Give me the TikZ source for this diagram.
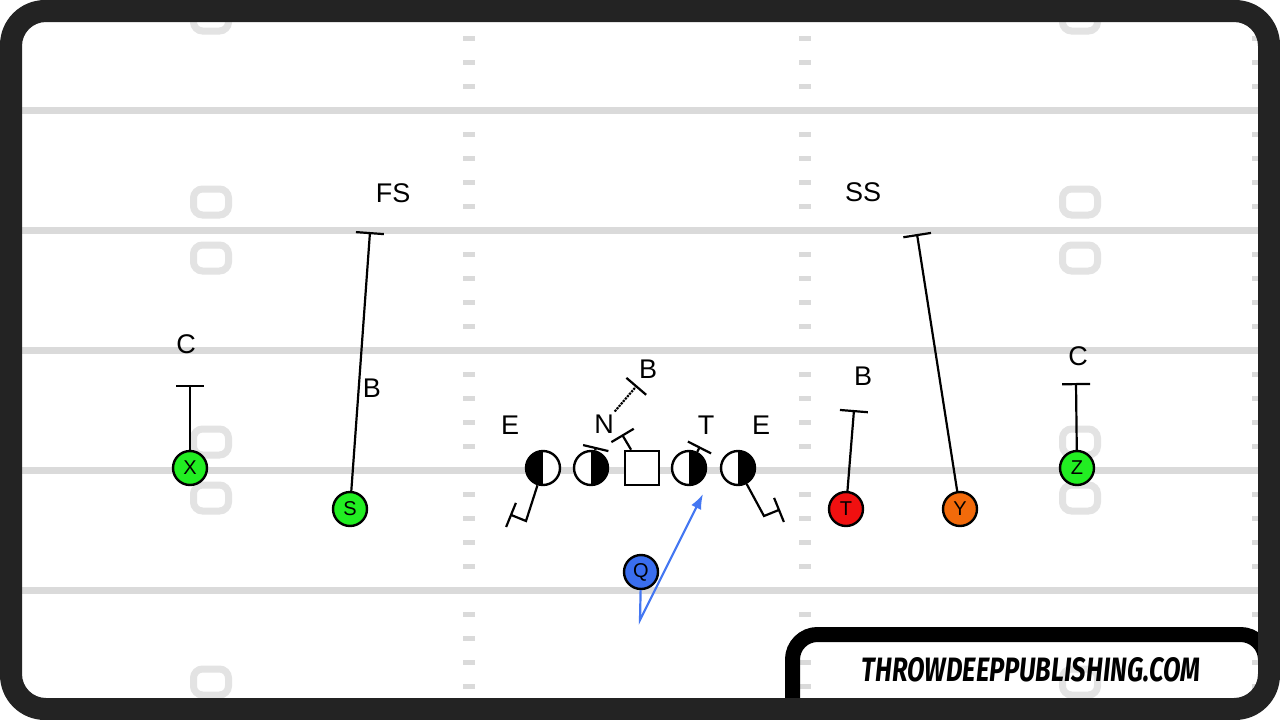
\documentclass[tikz,border=0pt]{standalone}
\usepackage{fontspec}
\usepackage{graphicx}
\setmainfont{Liberation Sans}
\newfontfamily\logofont{Fira Sans}
\usetikzlibrary{arrows.meta}

\definecolor{framegray}{HTML}{232323}
\definecolor{fieldline}{HTML}{DADADA}
\definecolor{numgray}{HTML}{E3E3E3}
\definecolor{offgreen}{HTML}{22EE22}
\definecolor{offred}{HTML}{F01010}
\definecolor{offorange}{HTML}{F26A0A}
\definecolor{qblue}{HTML}{3A6EEE}
\definecolor{routeblue}{HTML}{4477F2}

\tikzset{
  player/.style={circle,draw,line width=2.4pt,minimum size=34pt,inner sep=0pt,font=\fontsize{20}{20}\selectfont},
  lineman/.style={circle,draw,fill=white,line width=2.4pt,minimum size=34pt,inner sep=0pt},
  leftdark/.style={lineman,path picture={\fill[black] (path picture bounding box.north west) rectangle (path picture bounding box.south);}},
  rightdark/.style={lineman,path picture={\fill[black] (path picture bounding box.north) rectangle (path picture bounding box.south east);}},
  lbl/.style={font=\fontsize{27}{27}\selectfont,inner sep=3pt},
  route/.style={line width=2.2pt,-{Bar[width=28pt]}},
  blockrt/.style={line width=2.2pt,-{Bar[width=26pt]}},
}

\begin{document}
\begin{tikzpicture}[x=1pt,y=-1pt]
\useasboundingbox (0,0) rectangle (1280,720);
\fill[white] (0,0) rectangle (1280,720);

% field
\begin{scope}
  \clip (22,22) rectangle (1258,698);
  \foreach \yl in {110,230,350,470,590}
    \fill[fieldline] (0,\yl-3.5) rectangle (1280,\yl+3.5);
  \foreach \yl in {-10,110,...,710}
    \foreach \k in {1,...,4}
      \foreach \hx in {469,805,1258}
        \fill[fieldline] (\hx-6,\yl+24*\k-2.5) rectangle (\hx+6,\yl+24*\k+2.5);
  \foreach \yl in {-10,230,470,710}
    \foreach \nx in {211,1080}
      \foreach \s in {-1,1}
        \draw[numgray,line width=7pt,rounded corners=9pt] (\nx-17.5,\yl+\s*28-13) rectangle (\nx+17.5,\yl+\s*28+13);
  % logo box
  \draw[black,line width=15pt,rounded corners=25pt] (792.5,634.5) rectangle (1265.5,740);
\end{scope}

% frame
\fill[framegray,even odd rule,rounded corners=45pt] (0,0) rectangle (1280,720) [rounded corners=24pt] (22,22) rectangle (1258,698);

\node (logo) at (1031,670) {\resizebox{338pt}{24pt}{\logofont\bfseries\itshape THROWDEEPPUBLISHING.COM}};

% offense
\node[player,fill=offgreen] (X) at (190,468) {X};
\node[player,fill=offgreen] (S) at (350,509) {S};
\node[player,fill=offred] (T) at (846,509) {T};
\node[player,fill=offorange] (Y) at (960,509) {Y};
\node[player,fill=offgreen] (Z) at (1077,468) {Z};
\node[player,fill=qblue] (Q) at (641,572) {Q};

\node[leftdark] (le) at (543,468) {};
\node[rightdark] (lg) at (591,468) {};
\node[draw,fill=white,line width=2.6pt,minimum size=34pt] (ctr) at (642,468) {};
\node[rightdark] (rg) at (689,468) {};
\node[rightdark] (re) at (738,468) {};

% defense
\node[lbl] (fs) at (393,193) {FS};
\node[lbl] (ss) at (863,192) {SS};
\node[lbl] (cl) at (186,344) {C};
\node[lbl] (cr) at (1078,356) {C};
\node[lbl] (bl) at (372,388) {B};
\node[lbl] (br) at (863,376) {B};
\node[lbl] (el) at (510,425) {E};
\node[lbl] (nt) at (604,424) {N};
\node[lbl] (tt) at (706,425) {T};
\node[lbl] (er) at (761,425) {E};
\node[lbl] (bt) at (648,369) {B};

% route ends
\coordinate (xEnd) at (190,385);
\coordinate (sEnd) at (370,232);
\coordinate (tEnd) at (854,410);
\coordinate (yEnd) at (917,234);
\coordinate (zEnd) at (1076,383);
\coordinate (lgBlk) at (596,447);
\coordinate (ctrBlk) at (622,434.5);
\coordinate (rgBlk) at (700,446.5);
\coordinate (leTurn) at (526,521);
\coordinate (leBlk) at (510,514.5);
\coordinate (reTurn) at (764,516);
\coordinate (reBlk) at (780,509.5);
\coordinate (ntBlk) at (637,385.5);
\coordinate (qTurn) at (640,620);
\coordinate (qEnd) at (703,494);

\draw[route] (X) -- (xEnd);
\draw[route] (S) -- (sEnd);
\draw[route] (T) -- (tEnd);
\draw[route] (Y) -- (yEnd);
\draw[route] (Z) -- (zEnd);
\draw[blockrt] (lg) -- (lgBlk);
\draw[blockrt] (ctr) -- (ctrBlk);
\draw[blockrt] (rg) -- (rgBlk);
\draw[blockrt] (le) -- (leTurn) -- (leBlk);
\draw[blockrt] (re) -- (reTurn) -- (reBlk);
\draw[blockrt,densely dotted] (nt) -- (ntBlk);
\draw[line width=2.2pt,routeblue,-{Latex[length=15pt,width=11pt]}] (Q) -- (qTurn) -- (qEnd);
\end{tikzpicture}
\end{document}
